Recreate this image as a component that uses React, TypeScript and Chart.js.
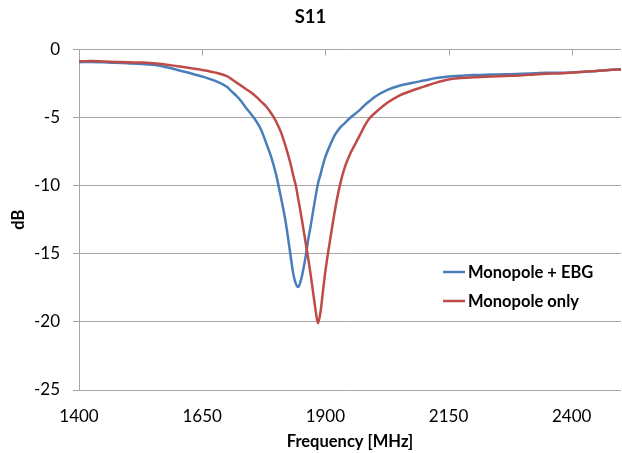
import React, { useEffect, useRef } from "react";
import { Chart, registerables } from "chart.js";

Chart.register(...registerables);

const freqMHz = [
  1400, 1425, 1450, 1475, 1500, 1525, 1550, 1575, 1600, 1625, 1650, 1675, 1700,
  1710, 1720, 1730, 1740, 1750, 1760, 1770, 1780, 1790, 1800, 1810, 1820, 1830,
  1835, 1840, 1845, 1850, 1855, 1860, 1865, 1870, 1875, 1880, 1885, 1890, 1895,
  1900, 1910, 1920, 1930, 1940, 1950, 1960, 1970, 1980, 1990, 2000, 2025, 2050,
  2075, 2100, 2125, 2150, 2175, 2200, 2225, 2250, 2275, 2300, 2325, 2350, 2375,
  2400, 2425, 2450, 2475, 2500,
];

const monopoleEbg = [
  -0.95, -0.93, -0.96, -1.0, -1.04, -1.08, -1.15, -1.3, -1.52, -1.75, -2.0, -2.3, -2.75,
  -3.1, -3.45, -3.85, -4.35, -4.8, -5.3, -5.94, -6.9, -7.9, -9.2, -10.9, -12.8, -15.3,
  -16.5, -17.2, -17.45, -17.0, -16.2, -15.2, -14.0, -13.0, -11.9, -10.85, -9.85, -9.2, -8.5,
  -7.9, -7.0, -6.25, -5.75, -5.4, -5.05, -4.75, -4.45, -4.1, -3.8, -3.5, -3.0, -2.68,
  -2.48, -2.3, -2.12, -2.0, -1.95, -1.9, -1.88, -1.85, -1.83, -1.8, -1.76, -1.72, -1.72,
  -1.7, -1.65, -1.6, -1.52, -1.47,
];

const monopoleOnly = [
  -0.88, -0.87, -0.9, -0.93, -0.96, -0.98, -1.03, -1.12, -1.25, -1.38, -1.52, -1.7, -1.98,
  -2.2, -2.45, -2.7, -2.95, -3.2, -3.5, -3.85, -4.2, -4.7, -5.3, -6.1, -7.2, -8.5,
  -9.3, -10.0, -11.0, -12.0, -13.1, -14.2, -15.3, -16.5, -17.8, -19.1, -20.1, -19.3, -17.8,
  -16.3, -13.9, -11.7, -9.9, -8.6, -7.7, -7.0, -6.3, -5.6, -5.05, -4.7, -3.95, -3.4,
  -3.05, -2.75, -2.45, -2.22, -2.12, -2.05, -2.02, -1.98, -1.95, -1.92, -1.85, -1.8, -1.78,
  -1.72, -1.65, -1.6, -1.53, -1.48,
];

const xTickValues = [1400, 1650, 1900, 2150, 2400];
const seriesNames = ["Monopole + EBG", "Monopole only"];
const seriesColors = ["#4a7ebb", "#be4b48"];
const chartTitle = "S11";
const xTitle = "Frequency [MHz]";
const yTitle = "dB";

const FONT = 'Lato, "Open Sans", "Noto Sans", sans-serif';
const GRID = "#a6a6a6";

const decorPlugin = {
  id: "decor",
  beforeDatasetsDraw(chart: any) {
    const { ctx } = chart;
    const xs = chart.scales.x;
    const ys = chart.scales.y;
    const y0 = Math.round(ys.getPixelForValue(0)) + 0.5;
    ctx.save();
    ctx.strokeStyle = GRID;
    ctx.lineWidth = 1;
    xTickValues.forEach((v) => {
      if (v === xs.min) return;
      const px = Math.round(xs.getPixelForValue(v)) + 0.5;
      ctx.beginPath();
      ctx.moveTo(px, y0);
      ctx.lineTo(px, y0 + 6);
      ctx.stroke();
    });
    ctx.restore();
  },
  afterDatasetsDraw(chart: any) {
    const { ctx } = chart;
    ctx.save();
    const rows = [272, 301];
    seriesNames.forEach((name, i) => {
      const y = rows[i];
      ctx.strokeStyle = seriesColors[i];
      ctx.lineWidth = 2.5;
      ctx.beginPath();
      ctx.moveTo(443, y);
      ctx.lineTo(465, y);
      ctx.stroke();
      ctx.fillStyle = "#000";
      ctx.font = `bold 16.5px ${FONT}`;
      ctx.textAlign = "left";
      ctx.textBaseline = "middle";
      ctx.fillText(name, 468, y + 1);
    });
    ctx.restore();
  },
};

export default function App() {
  const ref = useRef<HTMLCanvasElement | null>(null);

  useEffect(() => {
    if (!ref.current) return;
    const mk = (vals: number[]) => freqMHz.map((f, i) => ({ x: f, y: vals[i] }));
    const chart = new Chart(ref.current, {
      type: "line",
      data: {
        datasets: [
          {
            label: seriesNames[0],
            data: mk(monopoleEbg),
            borderColor: seriesColors[0],
            backgroundColor: seriesColors[0],
            borderWidth: 2.5,
            pointRadius: 0,
            cubicInterpolationMode: "monotone",
            order: 1,
          },
          {
            label: seriesNames[1],
            data: mk(monopoleOnly),
            borderColor: seriesColors[1],
            backgroundColor: seriesColors[1],
            borderWidth: 2.5,
            pointRadius: 0,
            cubicInterpolationMode: "monotone",
            order: 0,
          },
        ],
      },
      options: {
        animation: false,
        responsive: true,
        maintainAspectRatio: false,
        layout: { padding: { left: 0, right: 1, top: 0, bottom: 0 } },
        plugins: {
          legend: { display: false },
          tooltip: { enabled: false },
          title: {
            display: true,
            text: chartTitle,
            color: "#000",
            font: { family: FONT, size: 18.5, weight: "bold" },
            padding: { top: 6, bottom: 21 },
          },
        },
        scales: {
          x: {
            type: "linear",
            min: 1400,
            max: 2500,
            afterBuildTicks: (scale: any) => {
              scale.ticks = xTickValues.map((v) => ({ value: v }));
            },
            afterFit: (scale: any) => {
              scale.height = 63;
            },
            grid: { display: false, drawTicks: false },
            border: { display: false },
            ticks: {
              color: "#000",
              font: { family: FONT, size: 17 },
              padding: 16,
              maxRotation: 0,
              autoSkip: false,
              callback: (v: any) => String(v),
            },
            title: {
              display: true,
              text: xTitle,
              color: "#000",
              font: { family: FONT, size: 16.5, weight: "bold" },
              padding: { top: 0, bottom: 1 },
            },
          },
          y: {
            type: "linear",
            min: -25,
            max: 0,
            afterFit: (scale: any) => {
              scale.width = 79;
            },
            ticks: {
              stepSize: 5,
              color: "#000",
              font: { family: FONT, size: 17 },
              padding: 13,
            },
            grid: { color: GRID, tickLength: 6, lineWidth: 1 },
            border: { display: true, color: GRID },
            title: {
              display: true,
              text: yTitle,
              color: "#000",
              font: { family: FONT, size: 16.5, weight: "bold" },
              padding: { top: 9, bottom: 0 },
            },
          },
        },
      },
      plugins: [decorPlugin],
    });
    return () => chart.destroy();
  }, []);

  return (
    <div style={{ position: "absolute", left: 0, top: 0, width: 622, height: 453, background: "#fff" }}>
      <canvas ref={ref} />
    </div>
  );
}
